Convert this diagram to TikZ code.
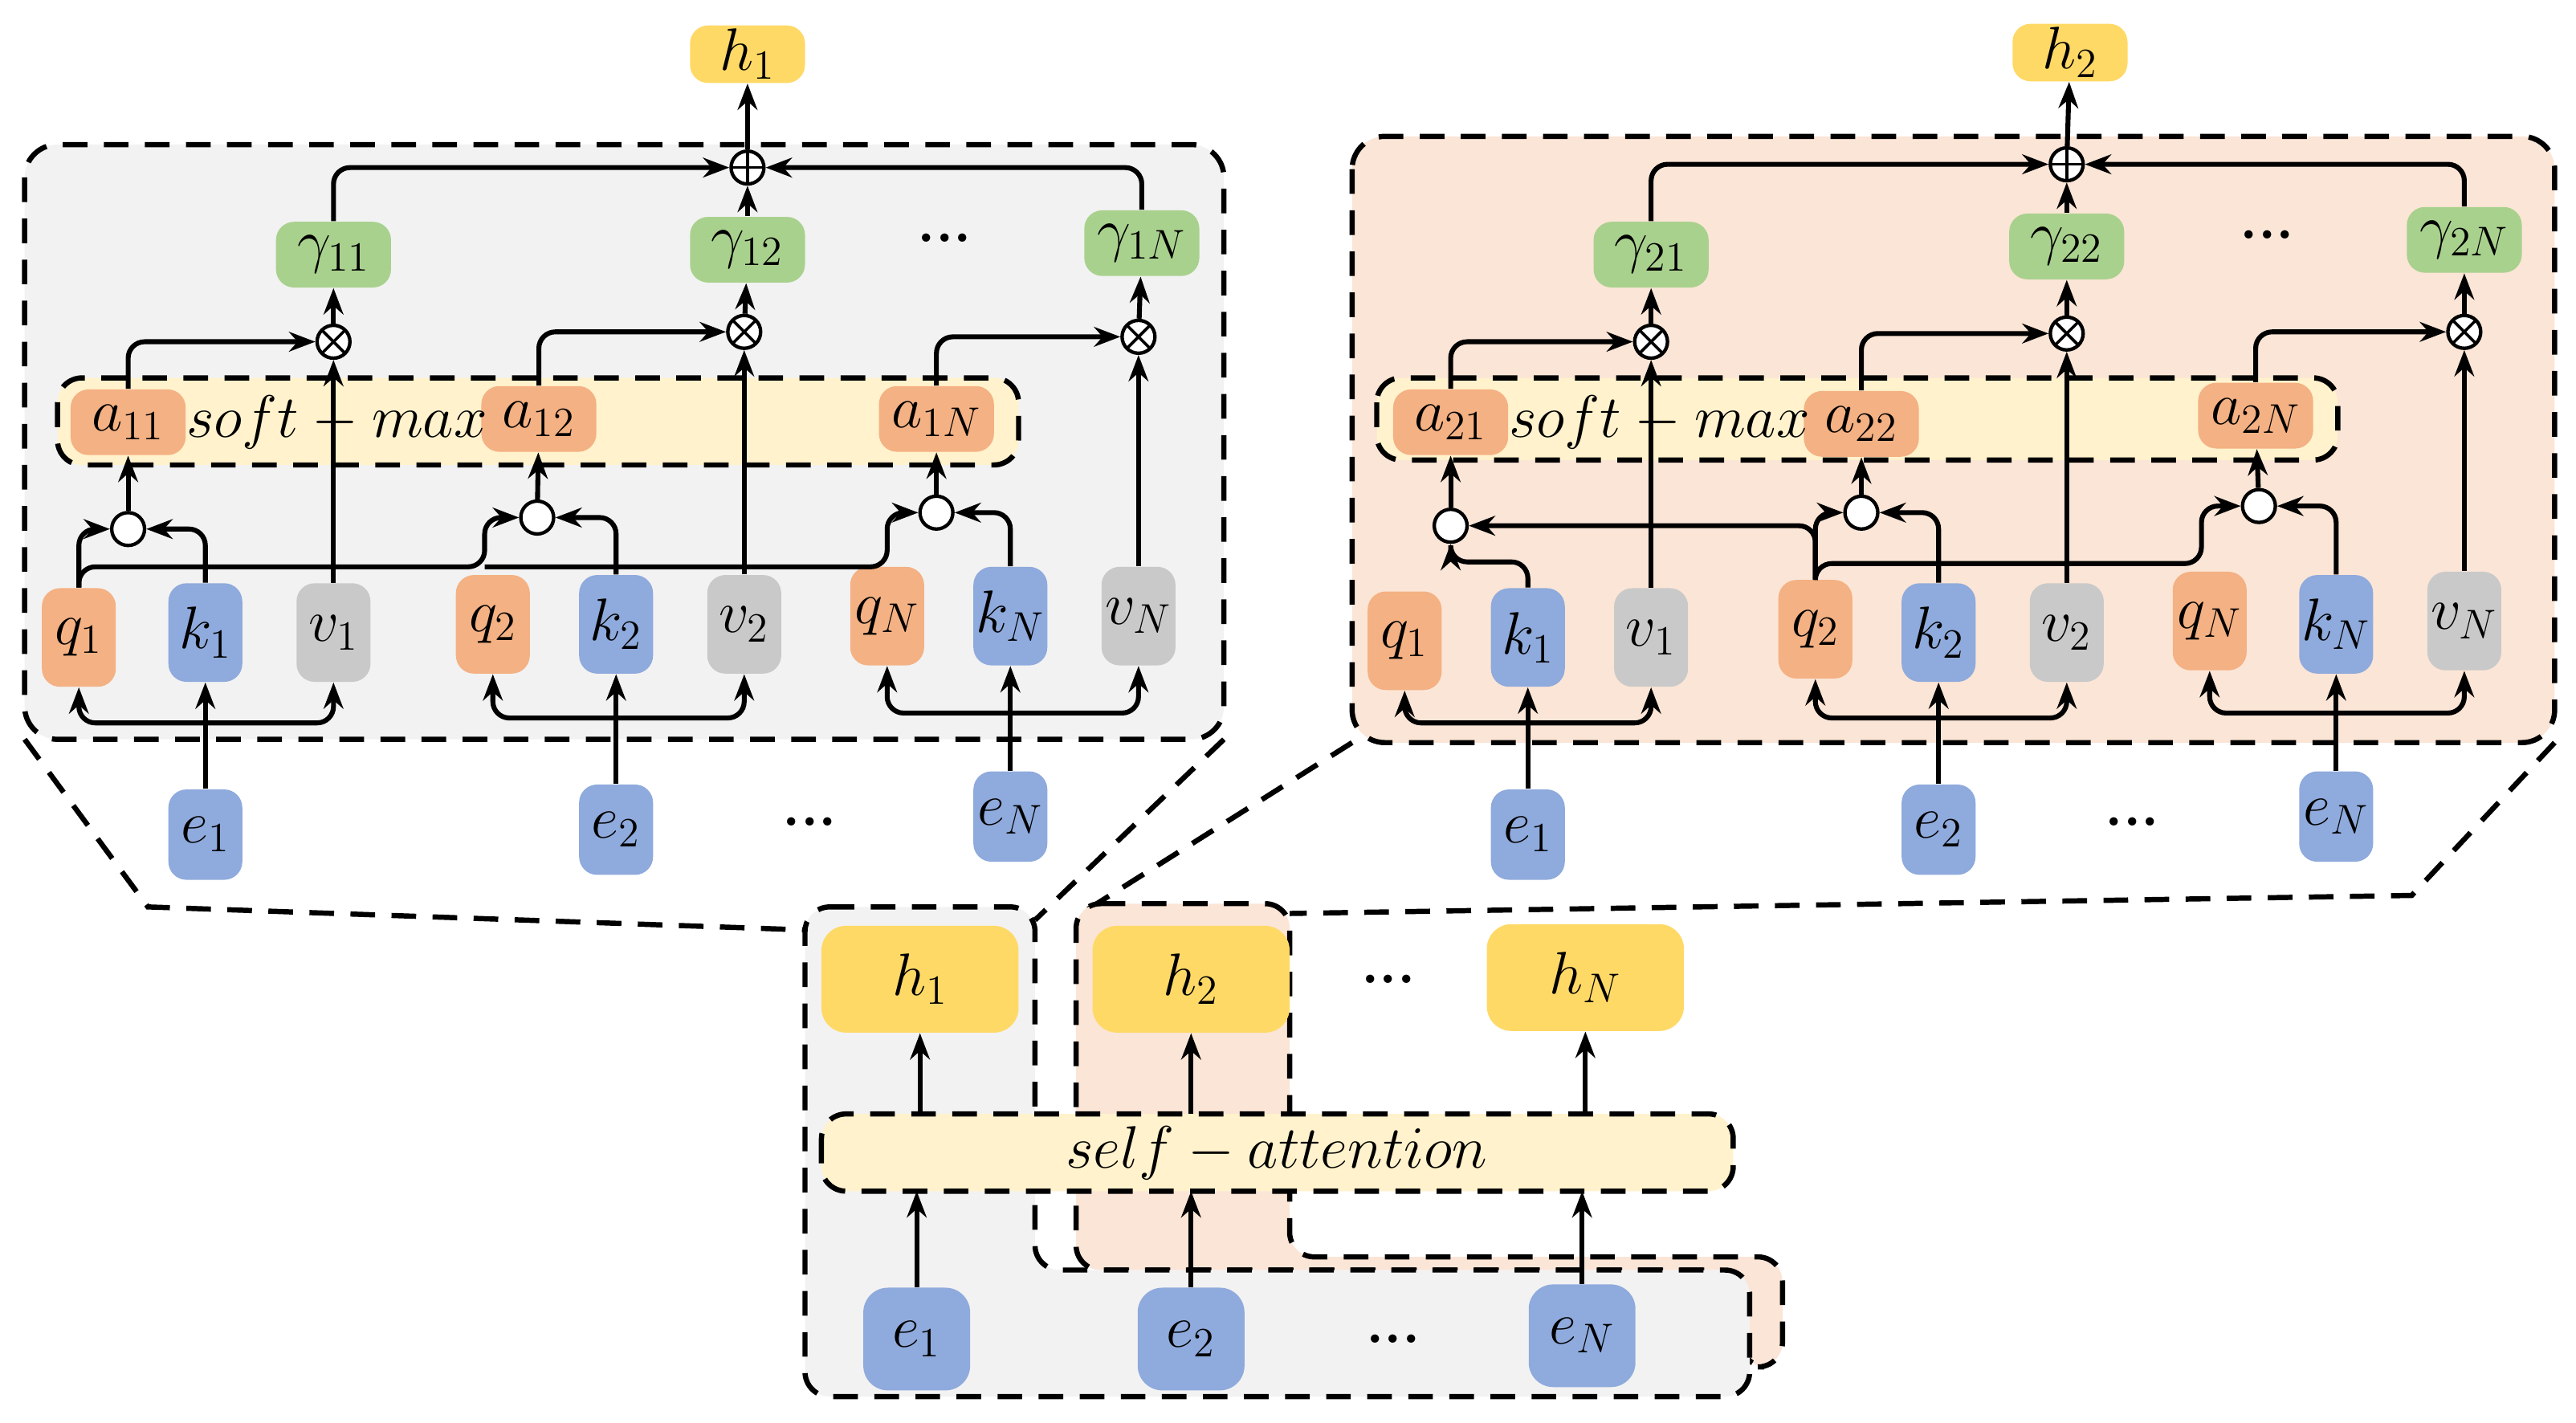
\documentclass[tikz,border=0pt]{standalone}
\usepackage{amsmath}
\usepackage{tikz}
\usetikzlibrary{positioning}
\usetikzlibrary{arrows.meta}
\definecolor{qcol}{HTML}{F4B183}
\definecolor{kcol}{HTML}{8FAADC}
\definecolor{vcol}{HTML}{C9C9C9}
\definecolor{gcol}{HTML}{A9D18E}
\definecolor{hcol}{HTML}{FFD966}
\definecolor{smcol}{HTML}{FFF2CC}
\definecolor{grayp}{HTML}{F2F2F2}
\definecolor{orgp}{HTML}{FBE5D6}
\tikzset{
    box/.style={rounded corners=2.2mm,minimum width=9mm,minimum height=12mm,inner sep=0pt,font=\fontsize{20}{22}\selectfont},
    qbox/.style={box,fill=qcol},
    kbox/.style={box,fill=kcol},
    vbox/.style={box,fill=vcol},
    abox/.style={box,fill=qcol,minimum width=14mm,minimum height=8mm},
    gbox/.style={box,fill=gcol,minimum width=14mm,minimum height=8mm},
    hbox/.style={box,fill=hcol,minimum width=14mm,minimum height=7mm},
    ebox/.style={box,fill=kcol,minimum height=11mm},
    bigh/.style={box,fill=hcol,minimum width=24mm,minimum height=13mm,rounded corners=3mm,font=\fontsize{22}{24}\selectfont},
    bige/.style={box,fill=kcol,minimum width=13mm,minimum height=12.5mm,rounded corners=3mm,font=\fontsize{22}{24}\selectfont},
    dots/.style={font=\fontsize{20}{22}\selectfont\bfseries},
    op/.style={circle,draw,fill=white,line width=1.2pt,minimum size=4mm,inner sep=0pt},
    dotop/.style={op,path picture={\fill (path picture bounding box.center) circle (0.5mm);}},
    crossop/.style={op,path picture={\draw[line width=1pt] (path picture bounding box.south west)--(path picture bounding box.north east) (path picture bounding box.north west)--(path picture bounding box.south east);}},
    plusop/.style={op,path picture={\draw[line width=1pt] (path picture bounding box.south)--(path picture bounding box.north) (path picture bounding box.west)--(path picture bounding box.east);}},
    zoomdash/.style={dash pattern=on 3mm off 2mm,line width=1.8pt},
    link/.style={line width=1.7pt,-{Stealth[length=3.2mm,width=2.4mm]},rounded corners=2mm},
    both/.style={link,{Stealth[length=3.2mm,width=2.4mm]}-{Stealth[length=3.2mm,width=2.4mm]}}
}
\begin{document}
\begin{tikzpicture}[x=0.2mm,y=-0.2mm]
        \useasboundingbox (0,0) rectangle (1568,866);

        % panels
        \draw[zoomdash,fill=grayp,rounded corners=4mm] (15,88) rectangle (745,450);
        \draw[zoomdash,fill=orgp,rounded corners=4mm] (823,83) rectangle (1555,452);
        \draw[zoomdash,fill=smcol,rounded corners=3mm] (35,230) rectangle (620,283);
        \draw[zoomdash,fill=smcol,rounded corners=3mm] (838,230) rectangle (1423,280);

        % left panel
        \begin{scope}
            \node[qbox] (lq1) at (48,388) {$q_1$};
            \node[kbox] (lk1) at (125,385) {$k_1$};
            \node[vbox] (lv1) at (203,385) {$v_1$};
            \node[qbox] (lq2) at (300,380) {$q_2$};
            \node[kbox] (lk2) at (375,380) {$k_2$};
            \node[vbox] (lv2) at (453,380) {$v_2$};
            \node[qbox] (lqN) at (540,375) {$q_N$};
            \node[kbox] (lkN) at (615,375) {$k_N$};
            \node[vbox] (lvN) at (693,375) {$v_N$};
            \node[abox] (la1) at (78,257) {$a_{11}$};
            \node[abox] (la2) at (328,255) {$a_{12}$};
            \node[abox] (laN) at (570,255) {$a_{1N}$};
            \node[font=\fontsize{20}{22}\selectfont] (lsm) at (205,257) {$soft-max$};
            \node[dotop] (ld1) at (78,322) {};
            \node[dotop] (ld2) at (327,315) {};
            \node[dotop] (ldN) at (570,312) {};
            \node[crossop] (lx1) at (203,208) {};
            \node[crossop] (lx2) at (453,202) {};
            \node[crossop] (lxN) at (693,205) {};
            \node[gbox] (lg1) at (203,155) {$\gamma_{11}$};
            \node[gbox] (lg2) at (455,152) {$\gamma_{12}$};
            \node[gbox] (lgN) at (695,148) {$\gamma_{1N}$};
            \node[dots] (ldg) at (575,145) {...};
            \node[plusop] (lp) at (455,102) {};
            \node[hbox] (lh) at (455,33) {$h_1$};
            \node[ebox] (le1) at (125,508) {$e_1$};
            \node[ebox] (le2) at (375,505) {$e_2$};
            \node[ebox] (leN) at (615,497) {$e_N$};
            \node[dots] (lde) at (493,500) {...};
        \end{scope}

        \draw[link] (le1) -- (lk1);
        \draw[link] (le2) -- (lk2);
        \draw[link] (leN) -- (lkN);
        \draw[both] (lq1.south) |- (125,440) -| (lv1.south);
        \draw[both] (lq2.south) |- (375,437) -| (lv2.south);
        \draw[both] (lqN.south) |- (615,434) -| (lvN.south);
        \draw[link] (lq1.north) |- (ld1.west);
        \draw[link] (lk1.north) |- (ld1.east);
        \draw[link] (lq1.north) |- (295,345) |- (ld2.west);
        \draw[link] (295,345) -- (540,345) |- (ldN.west);
        \draw[link] (lk2.north) |- (ld2.east);
        \draw[link] (lkN.north) |- (ldN.east);
        \draw[link] (ld1) -- (la1);
        \draw[link] (ld2) -- (la2);
        \draw[link] (ldN) -- (laN);
        \draw[link] (lv1) -- (lx1);
        \draw[link] (lv2) -- (lx2);
        \draw[link] (lvN) -- (lxN);
        \draw[link] (la1.north) |- (lx1.west);
        \draw[link] (la2.north) |- (lx2.west);
        \draw[link] (laN.north) |- (lxN.west);
        \draw[link] (lx1) -- (lg1);
        \draw[link] (lx2) -- (lg2);
        \draw[link] (lxN) -- (lgN);
        \draw[link] (lg1.north) |- (lp.west);
        \draw[link] (lg2) -- (lp);
        \draw[link] (lgN.north) |- (lp.east);
        \draw[link] (lp) -- (lh);

        % right panel
        \begin{scope}
            \node[qbox] (rq1) at (855,390) {$q_1$};
            \node[kbox] (rk1) at (930,388) {$k_1$};
            \node[vbox] (rv1) at (1005,388) {$v_1$};
            \node[qbox] (rq2) at (1105,383) {$q_2$};
            \node[kbox] (rk2) at (1180,385) {$k_2$};
            \node[vbox] (rv2) at (1258,385) {$v_2$};
            \node[qbox] (rqN) at (1345,378) {$q_N$};
            \node[kbox] (rkN) at (1422,380) {$k_N$};
            \node[vbox] (rvN) at (1500,378) {$v_N$};
            \node[abox] (ra1) at (883,257) {$a_{21}$};
            \node[abox] (ra2) at (1133,258) {$a_{22}$};
            \node[abox] (raN) at (1373,253) {$a_{2N}$};
            \node[font=\fontsize{20}{22}\selectfont] (rsm) at (1010,257) {$soft-max$};
            \node[dotop] (rd1) at (883,320) {};
            \node[dotop] (rd2) at (1133,312) {};
            \node[dotop] (rdN) at (1375,308) {};
            \node[crossop] (rx1) at (1005,208) {};
            \node[crossop] (rx2) at (1258,203) {};
            \node[crossop] (rxN) at (1500,202) {};
            \node[gbox] (rg1) at (1005,155) {$\gamma_{21}$};
            \node[gbox] (rg2) at (1258,150) {$\gamma_{22}$};
            \node[gbox] (rgN) at (1500,146) {$\gamma_{2N}$};
            \node[dots] (rdg) at (1380,143) {...};
            \node[plusop] (rp) at (1258,100) {};
            \node[hbox] (rh) at (1260,32) {$h_2$};
            \node[ebox] (re1) at (930,508) {$e_1$};
            \node[ebox] (re2) at (1180,505) {$e_2$};
            \node[ebox] (reN) at (1422,497) {$e_N$};
            \node[dots] (rde) at (1298,500) {...};
        \end{scope}

        \draw[link] (re1) -- (rk1);
        \draw[link] (re2) -- (rk2);
        \draw[link] (reN) -- (rkN);
        \draw[both] (rq1.south) |- (930,440) -| (rv1.south);
        \draw[both] (rq2.south) |- (1180,437) -| (rv2.south);
        \draw[both] (rqN.south) |- (1422,434) -| (rvN.south);
        \draw[link] (rk1.north) |- (883,342) -- (rd1.south);
        \draw[link] (rq2.north) |- (rd1.east);
        \draw[link] (rq2.north) |- (rd2.west);
        \draw[link] (rk2.north) |- (rd2.east);
        \draw[link] (rq2.north) |- (1340,343) |- (rdN.west);
        \draw[link] (rkN.north) |- (rdN.east);
        \draw[link] (rd1) -- (ra1);
        \draw[link] (rd2) -- (ra2);
        \draw[link] (rdN) -- (raN);
        \draw[link] (rv1) -- (rx1);
        \draw[link] (rv2) -- (rx2);
        \draw[link] (rvN) -- (rxN);
        \draw[link] (ra1.north) |- (rx1.west);
        \draw[link] (ra2.north) |- (rx2.west);
        \draw[link] (raN.north) |- (rxN.west);
        \draw[link] (rx1) -- (rg1);
        \draw[link] (rx2) -- (rg2);
        \draw[link] (rxN) -- (rgN);
        \draw[link] (rg1.north) |- (rp.west);
        \draw[link] (rg2) -- (rp);
        \draw[link] (rgN.north) |- (rp.east);
        \draw[link] (rp) -- (rh);

        % zoom lines
        \draw[zoomdash] (15,450) -- (90,552) -- (490,566);
        \draw[zoomdash] (745,450) -- (630,560);
        \draw[zoomdash] (823,452) -- (655,558);
        \draw[zoomdash] (1555,452) -- (1468,545) -- (785,556);

        % bottom part
        \draw[zoomdash,fill=orgp,rounded corners=3mm] (655,550) -- (785,550) -- (785,765) -- (1085,765) -- (1085,832) -- (1060,832) -- (1060,773) -- (655,773) -- cycle;
        \draw[zoomdash,fill=grayp,rounded corners=3mm] (490,552) -- (630,552) -- (630,773) -- (1065,773) -- (1065,850) -- (490,850) -- cycle;
        \draw[zoomdash,fill=smcol,rounded corners=3mm] (500,678) rectangle (1055,725);
        \node[font=\fontsize{22}{24}\selectfont] (sa) at (777,702) {$self-attention$};
        \node[bigh] (bh1) at (560,596) {$h_1$};
        \node[bigh] (bh2) at (725,596) {$h_2$};
        \node[bigh] (bhN) at (965,595) {$h_N$};
        \node[dots] (bdh) at (845,596) {...};
        \node[bige] (be1) at (558,815) {$e_1$};
        \node[bige] (be2) at (725,815) {$e_2$};
        \node[bige] (beN) at (963,813) {$e_N$};
        \node[dots] (bde) at (848,815) {...};
        \draw[link] (be1) -- (be1 |- 0,725);
        \draw[link] (be2) -- (be2 |- 0,725);
        \draw[link] (beN) -- (beN |- 0,725);
        \draw[link] (bh1 |- 0,678) -- (bh1);
        \draw[link] (bh2 |- 0,678) -- (bh2);
        \draw[link] (bhN |- 0,678) -- (bhN);
    \end{tikzpicture}
\end{document}
